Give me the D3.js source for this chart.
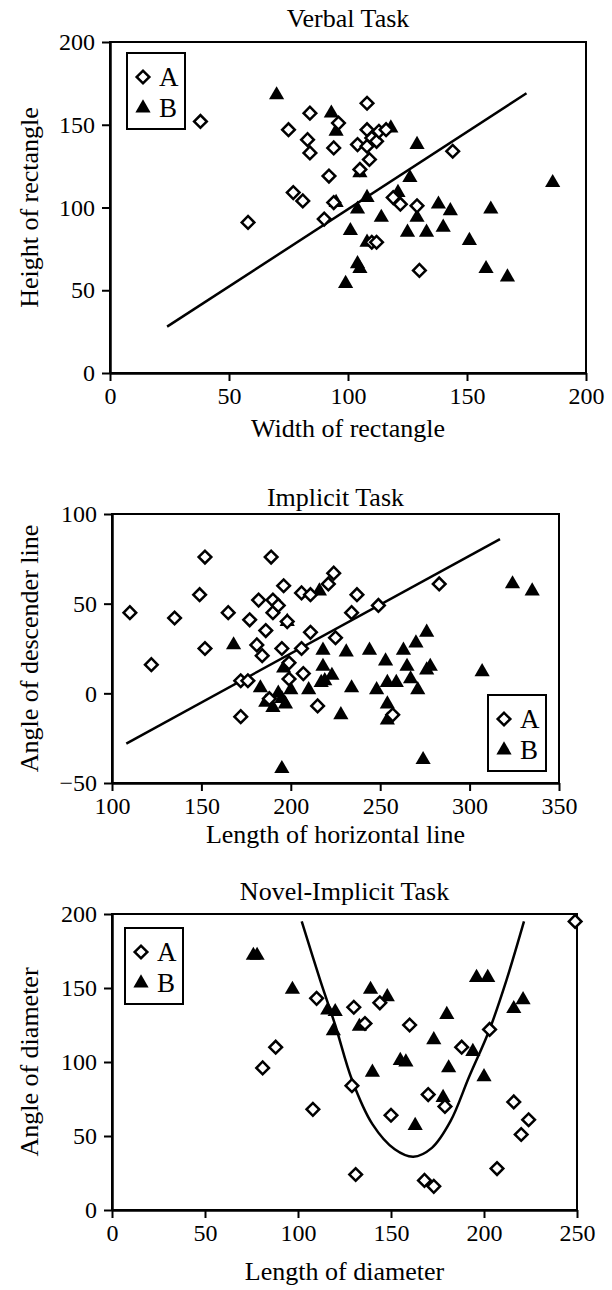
<!DOCTYPE html>
<html>
<head>
<meta charset="utf-8">
<script src="https://cdn.jsdelivr.net/npm/d3@7"></script>
<style>
body { margin: 0; background: #fff; }
text { font-family: "Liberation Serif", "Times New Roman", serif; fill: #000; }
</style>
</head>
<body>
<svg id="chart" width="612" height="1290"></svg>
<script>
// ---- data ----
var groups = ["A", "B"];

// Verbal task: [width, height]
var verbalA = [[38,152],[58,91],[75,147],[77,109],[81,104],[84,157],[83,141],[84,133],[90,93],[92,119],
  [94,136],[96,151],[94,103],[104,138],[108,163],[108,147],[108,137],[109,129],[110,142],[112,140],
  [113,146],[116,147],[105,123],[119,106],[122,102],[129,101],[130,62],[144,134],[110,79],[112,79]];
var verbalB = [[70,168],[93,157],[95,146],[118,148],[105,121],[129,138],[126,118],[95,103],[108,106],[104,99],
  [121,109],[138,102],[143,98],[160,99],[114,94],[129,94],[101,86],[125,85],[133,85],[140,88],
  [151,80],[108,79],[104,66],[105,63],[158,63],[167,58],[99,54],[186,115]];
var verbalFit = [[24,28],[175,169]];
var verbalXTicks = [0,50,100,150,200];
var verbalYTicks = [0,50,100,150,200];

// Implicit task: [length, angle]
var implicitA = [[110,45],[122,16],[135,42],[149,55],[152,76],[152,25],[165,45],[172,7],[176,7],[172,-13],
  [177,41],[181,27],[182,52],[184,21],[186,35],[189,76],[190,52],[190,45],[193,49],[195,25],
  [196,60],[199,17],[199,8],[198,40],[206,56],[206,25],[207,11],[211,34],[211,55],[215,-7],
  [221,61],[224,67],[225,31],[234,45],[237,55],[249,49],[283,61],[257,-12],[188,-3]];
var implicitB = [[168,27],[198,40],[183,3],[186,-5],[190,-8],[193,0],[195,-3],[197,-6],[200,2],[196,14],
  [195,-42],[210,2],[217,6],[218,24],[218,15],[219,7],[223,10],[231,23],[244,24],[263,24],
  [270,28],[276,34],[253,18],[265,15],[276,13],[278,15],[307,12],[234,3],[248,2],[254,6],
  [259,6],[267,8],[271,2],[254,-6],[254,-15],[228,-12],[274,-37],[324,61],[335,57],[216,57]];
var implicitFit = [[108,-28],[317,86]];
var implicitXTicks = [100,150,200,250,300,350];
var implicitYTicks = [-50,0,50,100];

// Novel-implicit task: [length, angle]
var novelA = [[88,110],[81,96],[108,68],[110,143],[130,137],[136,126],[144,140],[129,84],[131,24],[150,64],
  [160,125],[170,78],[168,20],[173,16],[179,70],[188,110],[203,122],[207,28],[216,73],[224,61],
  [220,51],[249,195]];
var novelB = [[76,172],[78,172],[97,149],[116,135],[120,134],[119,121],[133,124],[139,149],[148,144],[140,93],
  [155,101],[158,100],[163,57],[173,115],[180,132],[181,96],[194,107],[178,76],[196,157],[202,157],
  [200,90],[216,136],[221,142]];
var novelFit = [[102,195],[112,155],[120,125],[129,88],[140,58],[152,41],[162,36],[172,42],[182,60],
  [192,90],[203,122],[212,155],[221.5,195]];
var novelXTicks = [0,50,100,150,200,250];
var novelYTicks = [0,50,100,150,200];

var svg = d3.select("#chart");

function drawPanel(p) {
  var x = d3.scaleLinear().domain(d3.extent(p.xTicks)).range([p.left, p.right]);
  var y = d3.scaleLinear().domain(d3.extent(p.yTicks)).range([p.bottom, p.top]);
  var g = svg.append("g");

  // plot frame (top + right)
  g.append("rect")
    .attr("x", p.left).attr("y", p.top)
    .attr("width", p.right - p.left).attr("height", p.bottom - p.top)
    .attr("fill", "none").attr("stroke", "#000").attr("stroke-width", 2);

  // axes
  var xa = g.append("g").attr("transform", "translate(0," + p.bottom + ")")
    .call(d3.axisBottom(x).tickValues(p.xTicks).tickSize(8).tickSizeOuter(0).tickPadding(6));
  var ya = g.append("g").attr("transform", "translate(" + p.left + ",0)")
    .call(d3.axisLeft(y).tickValues(p.yTicks).tickSize(8).tickSizeOuter(0).tickPadding(7));
  [xa, ya].forEach(function(a) {
    a.select(".domain").attr("stroke-width", 2.5);
    a.selectAll(".tick line").attr("stroke-width", 2);
    a.selectAll(".tick text").style("font-size", "24px").attr("font-family", null);
  });

  // fit line / curve
  g.append("path")
    .datum(p.fit)
    .attr("d", d3.line().x(function(d) { return x(d[0]); }).y(function(d) { return y(d[1]); })
      .curve(d3.curveCatmullRom))
    .attr("fill", "none").attr("stroke", "#000").attr("stroke-width", 2.5);

  // points
  var diamond = d3.symbol().type(d3.symbolSquare).size(80);
  var tri = d3.symbol().type(d3.symbolTriangle).size(100);
  g.selectAll(".b").data(p.b).enter().append("path")
    .attr("d", tri)
    .attr("transform", function(d) { return "translate(" + x(d[0]) + "," + y(d[1]) + ")"; })
    .attr("fill", "#000");
  g.selectAll(".a").data(p.a).enter().append("path")
    .attr("d", diamond)
    .attr("transform", function(d) { return "translate(" + x(d[0]) + "," + y(d[1]) + ") rotate(45)"; })
    .attr("fill", "#fff").attr("stroke", "#000").attr("stroke-width", 2.5);

  // titles
  g.append("text").attr("x", (p.left + p.right) / 2).attr("y", p.titleY)
    .attr("text-anchor", "middle").style("font-size", "26px").text(p.title);
  g.append("text").attr("x", (p.left + p.right) / 2).attr("y", p.xLabelY)
    .attr("text-anchor", "middle").style("font-size", "26px").text(p.xLabel);
  g.append("text")
    .attr("transform", "translate(38," + (p.top + p.bottom) / 2 + ") rotate(-90)")
    .attr("text-anchor", "middle").style("font-size", "26px").text(p.yLabel);

  // legend
  var lg = g.append("g").attr("transform", "translate(" + p.legend[0] + "," + p.legend[1] + ")");
  lg.append("rect").attr("width", 58).attr("height", 76)
    .attr("fill", "#fff").attr("stroke", "#000").attr("stroke-width", 2);
  groups.forEach(function(name, i) {
    var cy = 24 + i * 31;
    lg.append("path")
      .attr("d", i === 0 ? diamond : tri)
      .attr("transform", "translate(16," + cy + ")" + (i === 0 ? " rotate(45)" : ""))
      .attr("fill", i === 0 ? "#fff" : "#000")
      .attr("stroke", i === 0 ? "#000" : "none").attr("stroke-width", 2.5);
    lg.append("text").attr("x", 32).attr("y", cy + 9).style("font-size", "27px").text(name);
  });
}

drawPanel({
  title: "Verbal Task", xLabel: "Width of rectangle", yLabel: "Height of rectangle",
  a: verbalA, b: verbalB, fit: verbalFit, xTicks: verbalXTicks, yTicks: verbalYTicks,
  left: 110, right: 586, top: 42, bottom: 373, titleY: 27, xLabelY: 437, legend: [127, 53]
});
drawPanel({
  title: "Implicit Task", xLabel: "Length of horizontal line", yLabel: "Angle of descender line",
  a: implicitA, b: implicitB, fit: implicitFit, xTicks: implicitXTicks, yTicks: implicitYTicks,
  left: 112, right: 559, top: 514, bottom: 783, titleY: 506, xLabelY: 843, legend: [488, 695]
});
drawPanel({
  title: "Novel-Implicit Task", xLabel: "Length of diameter", yLabel: "Angle of diameter",
  a: novelA, b: novelB, fit: novelFit, xTicks: novelXTicks, yTicks: novelYTicks,
  left: 112, right: 577, top: 914, bottom: 1210, titleY: 900, xLabelY: 1280, legend: [125, 928]
});
</script>
</body>
</html>
